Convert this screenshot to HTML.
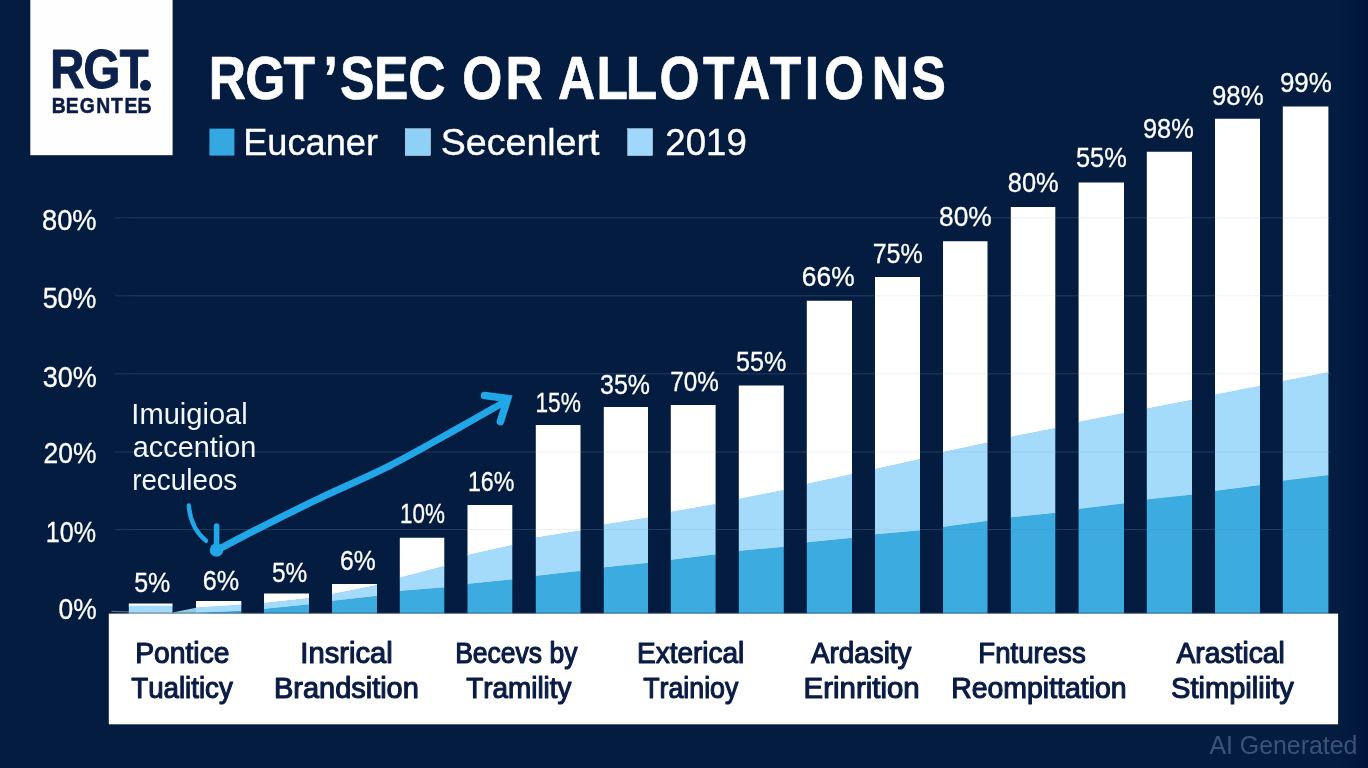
<!DOCTYPE html>
<html lang="en"><head><meta charset="utf-8"><title>RGT’SEC OR ALLOTATIONS</title>
<style>html,body{margin:0;padding:0;background:#031c40;}body{width:1368px;height:768px;overflow:hidden;}svg{display:block;font-family:"Liberation Sans", sans-serif;font-kerning:none;}</style></head><body>
<svg width="1368" height="768" viewBox="0 0 1368 768">
<rect width="1368" height="768" fill="#031c40"/>
<g fill="#020f3c" fill-opacity="0.1"><rect x="1342" y="0" width="26" height="768"/><rect x="1347" y="0" width="21" height="768"/><rect x="1352" y="0" width="16" height="768"/><rect x="1357" y="0" width="11" height="768"/><rect x="1362" y="0" width="6" height="768"/></g>
<g stroke="#ffffff" stroke-opacity="0.12" stroke-width="1">
<line x1="115" y1="217.8" x2="1331" y2="217.8"/>
<line x1="115" y1="295.8" x2="1331" y2="295.8"/>
<line x1="115" y1="373.8" x2="1331" y2="373.8"/>
<line x1="115" y1="452" x2="1331" y2="452"/>
<line x1="115" y1="529.6" x2="1331" y2="529.6"/>
</g>
<rect x="30.3" y="0" width="142.3" height="155.2" fill="#fefefe"/>
<g fill="#0c214b" stroke="#0c214b" stroke-linejoin="round">
<text transform="scale(0.8400,1)" x="59.8 99.4 142.7 169.1" y="88.1" font-size="56.2" font-weight="700" stroke-width="1.2">RGT<tspan font-size="30" dy="-0.6" stroke-width="0">.</tspan></text>
<circle cx="145.5" cy="85.3" r="5.5" stroke="none"/>
</g>
<g fill="#0b1c44" stroke="#0b1c44" stroke-width="0.5" stroke-linejoin="round">
<text transform="scale(0.8788,1)" x="58.8 74.7 90.7 109.5 126.2 141.6 156.5" y="113.50" font-size="22.0" font-weight="700">BEGNTEБ</text>
</g>
<g fill="#ffffff" stroke="#ffffff" stroke-width="0.7" stroke-linejoin="round">
<text transform="scale(0.8500,1)" x="245.6 288.5 333.6 380.6 399.9 440.0 480.3 524.1 543.8 594.6 638.4 656.5 701.7 736.3 775.9 827.2 862.6 905.6 946.8 969.5 1025.7 1072.5" y="99.10" font-size="60.6" font-weight="700">RGT’SEC OR ALLOTATIONS</text>
</g>
<rect x="209.4" y="128.6" width="25" height="27" fill="#35a8e1"/>
<g fill="#ffffff" stroke="#ffffff" stroke-width="0.35">
<text x="243.23" y="155.40" font-size="37.6" textLength="134.77" lengthAdjust="spacingAndGlyphs">Eucaner</text>
<rect x="405.2" y="128.6" width="25.4" height="27" fill="#8fd0f7"/>
<text x="440.79" y="155.40" font-size="37.6" textLength="158.68" lengthAdjust="spacingAndGlyphs">Secenlert</text>
<rect x="627.6" y="128.6" width="25" height="27" fill="#9fd8fc"/>
<text x="665.36" y="155.40" font-size="37.6" textLength="81.37" lengthAdjust="spacingAndGlyphs">2019</text>
</g>
<g fill="#ffffff" stroke="#ffffff" stroke-width="0.3">
<text x="41.96" y="229.50" font-size="29.4" textLength="54.66" lengthAdjust="spacingAndGlyphs">80%</text>
<text x="42.68" y="308.00" font-size="29.4" textLength="53.73" lengthAdjust="spacingAndGlyphs">50%</text>
<text x="42.72" y="386.50" font-size="29.4" textLength="54.09" lengthAdjust="spacingAndGlyphs">30%</text>
<text x="43.62" y="463.20" font-size="29.4" textLength="52.97" lengthAdjust="spacingAndGlyphs">20%</text>
<text x="45.74" y="541.50" font-size="29.4" textLength="50.20" lengthAdjust="spacingAndGlyphs">10%</text>
<text x="58.62" y="618.50" font-size="29.4" textLength="38.17" lengthAdjust="spacingAndGlyphs">0%</text>
</g>
<line x1="111.5" y1="611.3" x2="129" y2="611.8" stroke="#8fa3bd" stroke-opacity="0.6" stroke-width="1.2"/>
<polygon points="172.5,612.4 196,607.8 196,613.6 172.5,613.6" fill="#a4dbfb" fill-opacity="0.9"/>
<g fill="#ffffff"><polygon points="128.8,603.5 172.5,603.5 172.5,606.4 128.8,606.4"/><polygon points="196.0,601.0 241.3,601.0 241.3,605.2 196.0,608.1"/><polygon points="264.0,593.5 309.0,593.5 309.0,598.6 264.0,603.6"/><polygon points="332.0,584.0 377.0,584.0 377.0,585.6 332.0,594.6"/><polygon points="399.8,537.8 444.3,537.8 444.3,566.5 399.8,578.2"/><polygon points="467.5,505.0 512.3,505.0 512.3,545.5 467.5,555.5"/><polygon points="535.8,425.0 580.5,425.0 580.5,531.0 535.8,538.0"/><polygon points="603.8,407.0 648.0,407.0 648.0,518.1 603.8,525.0"/><polygon points="670.8,405.0 715.6,405.0 715.6,504.5 670.8,512.4"/><polygon points="738.8,385.5 783.8,385.5 783.8,490.6 738.8,499.4"/><polygon points="806.8,300.8 852.0,300.8 852.0,474.6 806.8,484.4"/><polygon points="875.0,277.0 920.0,277.0 920.0,459.6 875.0,469.6"/><polygon points="943.0,241.3 987.5,241.3 987.5,443.0 943.0,452.6"/><polygon points="1010.8,207.0 1055.3,207.0 1055.3,428.5 1010.8,437.4"/><polygon points="1078.6,182.5 1124.0,182.5 1124.0,413.6 1078.6,422.4"/><polygon points="1146.8,151.8 1192.0,151.8 1192.0,400.3 1146.8,409.0"/><polygon points="1215.0,118.8 1260.0,118.8 1260.0,386.4 1215.0,395.2"/><polygon points="1282.8,106.5 1328.4,106.5 1328.4,372.9 1282.8,381.6"/></g>
<g fill="#a4dbfb"><polygon points="128.8,605.8 172.5,605.8 172.5,613.6 128.8,613.6"/><polygon points="196.0,607.5 241.3,604.6 241.3,611.6 196.0,613.6"/><polygon points="264.0,603.0 309.0,598.0 309.0,605.1 264.0,609.6"/><polygon points="332.0,594.0 377.0,585.0 377.0,596.6 332.0,601.6"/><polygon points="399.8,577.6 444.3,565.9 444.3,588.1 399.8,591.6"/><polygon points="467.5,554.9 512.3,544.9 512.3,580.1 467.5,584.6"/><polygon points="535.8,537.4 580.5,530.4 580.5,571.5 535.8,576.5"/><polygon points="603.8,524.4 648.0,517.5 648.0,563.6 603.8,568.0"/><polygon points="670.8,511.8 715.6,503.9 715.6,555.1 670.8,560.6"/><polygon points="738.8,498.8 783.8,490.0 783.8,547.6 738.8,551.5"/><polygon points="806.8,483.8 852.0,474.0 852.0,538.6 806.8,543.0"/><polygon points="875.0,469.0 920.0,459.0 920.0,531.1 875.0,535.1"/><polygon points="943.0,452.0 987.5,442.4 987.5,521.5 943.0,527.6"/><polygon points="1010.8,436.8 1055.3,427.9 1055.3,513.6 1010.8,518.0"/><polygon points="1078.6,421.8 1124.0,413.0 1124.0,504.0 1078.6,509.7"/><polygon points="1146.8,408.4 1192.0,399.7 1192.0,495.3 1146.8,500.2"/><polygon points="1215.0,394.6 1260.0,385.8 1260.0,485.8 1215.0,491.5"/><polygon points="1282.8,381.0 1328.4,372.3 1328.4,475.8 1282.8,481.4"/></g>
<g fill="#3cabdf"><polygon points="196.0,613.0 241.3,611.0 241.3,613.6 196.0,613.6"/><polygon points="264.0,609.0 309.0,604.5 309.0,613.6 264.0,613.6"/><polygon points="332.0,601.0 377.0,596.0 377.0,613.6 332.0,613.6"/><polygon points="399.8,591.0 444.3,587.5 444.3,613.6 399.8,613.6"/><polygon points="467.5,584.0 512.3,579.5 512.3,613.6 467.5,613.6"/><polygon points="535.8,575.9 580.5,570.9 580.5,613.6 535.8,613.6"/><polygon points="603.8,567.4 648.0,563.0 648.0,613.6 603.8,613.6"/><polygon points="670.8,560.0 715.6,554.5 715.6,613.6 670.8,613.6"/><polygon points="738.8,550.9 783.8,547.0 783.8,613.6 738.8,613.6"/><polygon points="806.8,542.4 852.0,538.0 852.0,613.6 806.8,613.6"/><polygon points="875.0,534.5 920.0,530.5 920.0,613.6 875.0,613.6"/><polygon points="943.0,527.0 987.5,520.9 987.5,613.6 943.0,613.6"/><polygon points="1010.8,517.4 1055.3,513.0 1055.3,613.6 1010.8,613.6"/><polygon points="1078.6,509.1 1124.0,503.4 1124.0,613.6 1078.6,613.6"/><polygon points="1146.8,499.6 1192.0,494.7 1192.0,613.6 1146.8,613.6"/><polygon points="1215.0,490.9 1260.0,485.2 1260.0,613.6 1215.0,613.6"/><polygon points="1282.8,480.8 1328.4,475.2 1328.4,613.6 1282.8,613.6"/></g>
<g stroke="#4c6f99" stroke-opacity="0.10" stroke-width="1">
<line x1="129" y1="217.8" x2="1328" y2="217.8"/>
<line x1="129" y1="295.8" x2="1328" y2="295.8"/>
<line x1="129" y1="373.8" x2="1328" y2="373.8"/>
<line x1="129" y1="452" x2="1328" y2="452"/>
<line x1="129" y1="529.6" x2="1328" y2="529.6"/>
</g>
<line x1="129" y1="612.9" x2="1328.4" y2="612.9" stroke="#2b4468" stroke-opacity="0.4" stroke-width="1.2"/>
<g fill="#ffffff" stroke="#ffffff" stroke-width="0.3">
<text x="134.15" y="591.90" font-size="27.3" textLength="36.09" lengthAdjust="spacingAndGlyphs">5%</text>
<text x="202.67" y="590.40" font-size="27.3" textLength="36.38" lengthAdjust="spacingAndGlyphs">6%</text>
<text x="271.97" y="581.90" font-size="27.3" textLength="35.25" lengthAdjust="spacingAndGlyphs">5%</text>
<text x="340.10" y="570.20" font-size="27.3" textLength="35.63" lengthAdjust="spacingAndGlyphs">6%</text>
<text x="399.94" y="523.40" font-size="27.3" textLength="44.91" lengthAdjust="spacingAndGlyphs">10%</text>
<text x="467.88" y="491.40" font-size="27.3" textLength="46.50" lengthAdjust="spacingAndGlyphs">16%</text>
<text x="535.42" y="411.90" font-size="27.3" textLength="45.44" lengthAdjust="spacingAndGlyphs">15%</text>
<text x="600.00" y="393.70" font-size="27.3" textLength="49.94" lengthAdjust="spacingAndGlyphs">35%</text>
<text x="670.21" y="390.90" font-size="27.3" textLength="48.51" lengthAdjust="spacingAndGlyphs">70%</text>
<text x="735.94" y="370.90" font-size="27.3" textLength="50.30" lengthAdjust="spacingAndGlyphs">55%</text>
<text x="801.81" y="285.90" font-size="27.3" textLength="52.78" lengthAdjust="spacingAndGlyphs">66%</text>
<text x="872.67" y="262.90" font-size="27.3" textLength="50.07" lengthAdjust="spacingAndGlyphs">75%</text>
<text x="939.00" y="225.90" font-size="27.3" textLength="52.79" lengthAdjust="spacingAndGlyphs">80%</text>
<text x="1007.84" y="192.40" font-size="27.3" textLength="50.91" lengthAdjust="spacingAndGlyphs">80%</text>
<text x="1075.93" y="167.40" font-size="27.3" textLength="50.82" lengthAdjust="spacingAndGlyphs">55%</text>
<text x="1142.96" y="137.90" font-size="27.3" textLength="50.79" lengthAdjust="spacingAndGlyphs">98%</text>
<text x="1211.94" y="104.90" font-size="27.3" textLength="51.63" lengthAdjust="spacingAndGlyphs">98%</text>
<text x="1279.94" y="92.40" font-size="27.3" textLength="51.84" lengthAdjust="spacingAndGlyphs">99%</text>
</g>
<g fill="#f4f7fb">
<text x="131.32" y="423.50" font-size="29.5" textLength="116.43" lengthAdjust="spacingAndGlyphs">Imuigioal</text>
<text x="132.77" y="457.00" font-size="29.5" textLength="123.60" lengthAdjust="spacingAndGlyphs">accention</text>
<text x="132.15" y="490.00" font-size="29.5" textLength="105.15" lengthAdjust="spacingAndGlyphs">reculeos</text>
</g>
<g fill="none" stroke="#21a6e7" stroke-linecap="round" stroke-linejoin="round">
<path d="M188.8 505.5 Q190.5 528 206 540.8" stroke-width="4.4"/>
<path d="M216.6 526 L216.6 548" stroke-width="5.6"/>
<path d="M216.5 550.3 C225.0 545.9 249.4 533.0 267.7 523.8 C286.0 514.6 305.8 504.9 326.2 495.2 C346.6 485.5 368.2 476.7 390 465.6 C411.8 454.6 438.0 439.5 457 428.9 C476.0 418.3 496.2 406.6 504 402.2" stroke-width="7"/>
<path d="M484.6 395.6 L507.6 398.6 L500.4 421.6" stroke-width="7.6" stroke-linejoin="miter" stroke-miterlimit="6"/>
</g>
<circle cx="216.5" cy="550" r="6.8" fill="#21a6e7"/>
<rect x="108.8" y="613.6" width="1229.3" height="110.7" fill="#ffffff"/>
<g fill="#0b1c44" stroke="#0b1c44" stroke-width="1.15" stroke-linejoin="round">
<text x="135.23" y="662.60" font-size="29.0" textLength="94.27" lengthAdjust="spacingAndGlyphs">Pontice</text>
<text x="131.23" y="698.40" font-size="29.0" textLength="101.58" lengthAdjust="spacingAndGlyphs">Tualiticy</text>
<text x="300.36" y="662.60" font-size="29.0" textLength="92.34" lengthAdjust="spacingAndGlyphs">Insrical</text>
<text x="273.97" y="698.40" font-size="29.0" textLength="144.86" lengthAdjust="spacingAndGlyphs">Brandsition</text>
<text x="455.17" y="662.60" font-size="29.0" textLength="122.33" lengthAdjust="spacingAndGlyphs">Becevs by</text>
<text x="466.22" y="698.40" font-size="29.0" textLength="105.28" lengthAdjust="spacingAndGlyphs">Tramility</text>
<text x="637.06" y="662.60" font-size="29.0" textLength="107.27" lengthAdjust="spacingAndGlyphs">Exterical</text>
<text x="643.25" y="698.40" font-size="29.0" textLength="95.05" lengthAdjust="spacingAndGlyphs">Trainioy</text>
<text x="811.00" y="662.60" font-size="29.0" textLength="100.51" lengthAdjust="spacingAndGlyphs">Ardasity</text>
<text x="803.64" y="698.40" font-size="29.0" textLength="116.02" lengthAdjust="spacingAndGlyphs">Erinrition</text>
<text x="978.28" y="662.60" font-size="29.0" textLength="107.46" lengthAdjust="spacingAndGlyphs">Fnturess</text>
<text x="951.22" y="698.40" font-size="29.0" textLength="175.38" lengthAdjust="spacingAndGlyphs">Reompittation</text>
<text x="1176.49" y="662.60" font-size="29.0" textLength="108.35" lengthAdjust="spacingAndGlyphs">Arastical</text>
<text x="1171.03" y="698.40" font-size="29.0" textLength="122.78" lengthAdjust="spacingAndGlyphs">Stimpiliity</text>
</g>
<text x="1209.45" y="754.20" font-size="25.6" fill="#7389ab" textLength="147.95" lengthAdjust="spacingAndGlyphs" fill-opacity="0.5">AI Generated</text>
</svg></body></html>
